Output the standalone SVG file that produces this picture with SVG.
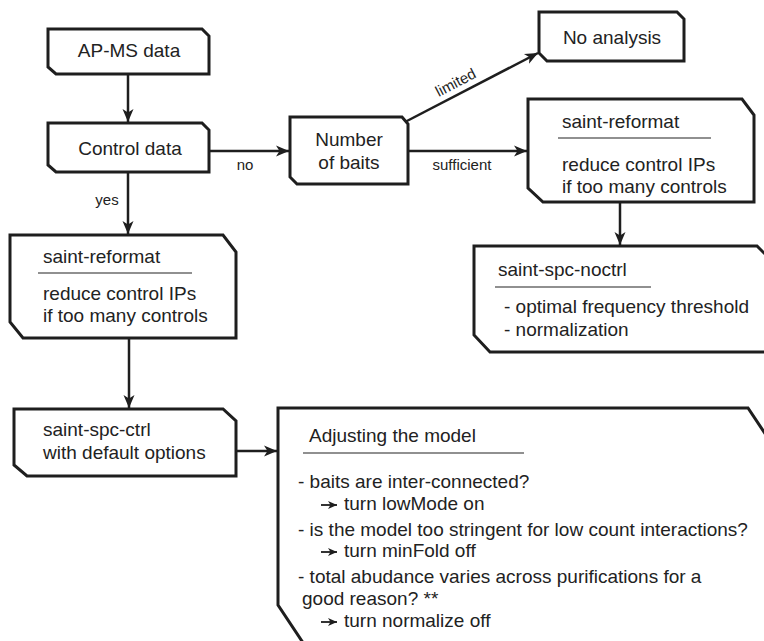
<svg xmlns="http://www.w3.org/2000/svg" width="764" height="641" viewBox="0 0 764 641">
<defs>
<style>
.node{fill:#fff;stroke:#1e1e1e;stroke-width:3;stroke-linejoin:miter}
.t{font-family:"Liberation Sans",Arial,Helvetica,sans-serif;font-size:19px;fill:#222}
.c{text-anchor:middle}
.lbl{font-family:"Liberation Sans",Arial,Helvetica,sans-serif;font-size:15px;fill:#222}
.sep{stroke:#222;stroke-width:1.2}
.conn{fill:none;stroke:#1e1e1e;stroke-width:2.5}
.mini{fill:none;stroke:#1e1e1e;stroke-width:1.8}
</style>
<marker id="ah" markerUnits="userSpaceOnUse" markerWidth="16" markerHeight="14" viewBox="-14 -7 16 14" refX="0" refY="0" orient="auto">
<path d="M0,0 L-13,-5.5 L-9.5,0 L-13,5.5 Z" fill="#1e1e1e"/>
</marker>
<marker id="ahs" markerUnits="userSpaceOnUse" markerWidth="12" markerHeight="10" viewBox="-10 -5 12 10" refX="0" refY="0" orient="auto">
<path d="M0,0 L-9,-4 L-6.5,0 L-9,4 Z" fill="#1e1e1e"/>
</marker>
</defs>
<rect width="764" height="641" fill="#fff"/>

<g id="connectors">
<line class="conn" x1="128" y1="74" x2="128" y2="122" marker-end="url(#ah)"/>
<line class="conn" x1="209" y1="151" x2="289" y2="151" marker-end="url(#ah)"/>
<line class="conn" x1="405" y1="122" x2="538" y2="53" marker-end="url(#ah)"/>
<line class="conn" x1="408" y1="151" x2="527" y2="151" marker-end="url(#ah)"/>
<line class="conn" x1="128" y1="172" x2="128" y2="234" marker-end="url(#ah)"/>
<line class="conn" x1="620" y1="202" x2="620" y2="245" marker-end="url(#ah)"/>
<line class="conn" x1="129" y1="338" x2="129" y2="408" marker-end="url(#ah)"/>
<line class="conn" x1="236" y1="451" x2="277" y2="451" marker-end="url(#ah)"/>
<text class="lbl c" x="245" y="170">no</text>
<text class="lbl c" x="107" y="205">yes</text>
<text class="lbl c" x="462" y="170">sufficient</text>
<text class="lbl c" transform="translate(458,87) rotate(-27.6)">limited</text>
</g>

<g id="ap-ms-data">
<path class="node" d="M48,29 H202 L209,36 V74 H56 L48,67 Z"/>
<text class="t c" x="129" y="57">AP-MS data</text>
</g>

<g id="control-data">
<path class="node" d="M48,123 H202 L209,130 V172 H56 L48,165 Z"/>
<text class="t c" x="130" y="155">Control data</text>
</g>

<g id="number-of-baits">
<path class="node" d="M290,117 H402 L408,124 V184 H297 L290,177 Z"/>
<text class="t c" x="349" y="146">Number</text>
<text class="t c" x="349" y="169">of baits</text>
</g>

<g id="no-analysis">
<path class="node" d="M539,12 H677 L684,19 V61 H547 L539,53 Z"/>
<text class="t c" x="612" y="44">No analysis</text>
</g>

<g id="saint-reformat-right">
<path class="node" d="M528,99 H742 L754,115 V202 H543 L528,188 Z"/>
<text class="t" x="562" y="128">saint-reformat</text>
<line class="sep" x1="558" y1="138" x2="711" y2="138"/>
<text class="t" x="562" y="171">reduce control IPs</text>
<text class="t" x="562" y="193">if too many controls</text>
</g>

<g id="saint-spc-noctrl">
<path class="node" d="M474,246 H757 L774,263 V352 H490 L474,335 Z"/>
<text class="t" x="498" y="276">saint-spc-noctrl</text>
<line class="sep" x1="495" y1="287" x2="651" y2="287"/>
<text class="t" x="504" y="313">- optimal frequency threshold</text>
<text class="t" x="504" y="336">- normalization</text>
</g>

<g id="saint-reformat-left">
<path class="node" d="M10,235 H223 L236,252 V338 H23 L10,322 Z"/>
<text class="t" x="43" y="263">saint-reformat</text>
<line class="sep" x1="38" y1="273" x2="192" y2="273"/>
<text class="t" x="43" y="300">reduce control IPs</text>
<text class="t" x="43" y="322">if too many controls</text>
</g>

<g id="saint-spc-ctrl">
<path class="node" d="M14,409 H223 L236,421 V476 H27 L14,465 Z"/>
<text class="t" x="43" y="436">saint-spc-ctrl</text>
<text class="t" x="43" y="459">with default options</text>
</g>

<g id="adjusting-the-model">
<path class="node" d="M278,408 H748 L788,468 V700 H341 L278,605 Z"/>
<text class="t" x="309" y="442">Adjusting the model</text>
<line class="sep" x1="303" y1="453" x2="524" y2="453"/>
<text class="t" x="298" y="488">- baits are inter-connected?</text>
<line class="mini" x1="321" y1="505" x2="337" y2="505" marker-end="url(#ahs)"/>
<text class="t" x="344" y="510">turn lowMode on</text>
<text class="t" x="298" y="536">- is the model too stringent for low count interactions?</text>
<line class="mini" x1="321" y1="552" x2="337" y2="552" marker-end="url(#ahs)"/>
<text class="t" x="344" y="557">turn minFold off</text>
<text class="t" x="298" y="583">- total abudance varies across purifications for a</text>
<text class="t" x="302" y="605">good reason? **</text>
<line class="mini" x1="321" y1="622" x2="337" y2="622" marker-end="url(#ahs)"/>
<text class="t" x="344" y="627">turn normalize off</text>
</g>
</svg>
